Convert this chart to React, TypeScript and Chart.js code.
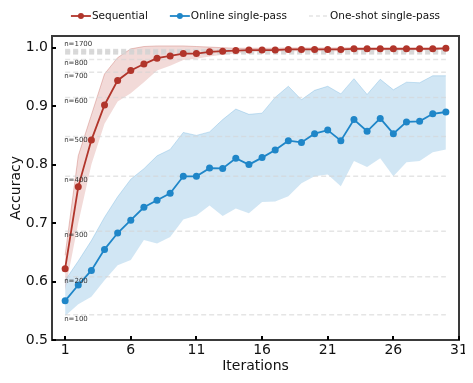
import React, { useEffect, useRef } from 'react';
import { Chart, registerables } from 'chart.js';

Chart.register(...registerables);

const iterations = [1, 2, 3, 4, 5, 6, 7, 8, 9, 10, 11, 12, 13, 14, 15, 16, 17, 18, 19, 20, 21, 22, 23, 24, 25, 26, 27, 28, 29, 30];
const xTickValues = [1, 6, 11, 16, 21, 26, 31];
const yTickValues = [0.5, 0.6, 0.7, 0.8, 0.9, 1.0];

const sequentialMean = [0.622, 0.762, 0.842, 0.902, 0.944, 0.961, 0.972, 0.982, 0.986, 0.990, 0.990, 0.993, 0.994, 0.995, 0.996, 0.996, 0.996, 0.997, 0.997, 0.997, 0.997, 0.997, 0.998, 0.998, 0.998, 0.998, 0.998, 0.998, 0.998, 0.999];
const sequentialUpper = [0.645, 0.815, 0.885, 0.955, 0.983, 0.998, 1.002, 1.003, 1.003, 1.003, 1.002, 1.001, 1.0, 0.999, 0.999, 0.999, 0.999, 0.9995, 0.9995, 0.9995, 0.9995, 0.9995, 1.0, 1.0, 1.0, 1.0, 1.0, 1.0, 1.0, 1.0];
const sequentialLower = [0.585, 0.700, 0.800, 0.870, 0.908, 0.922, 0.941, 0.961, 0.969, 0.979, 0.981, 0.985, 0.988, 0.990, 0.992, 0.993, 0.993, 0.994, 0.994, 0.994, 0.994, 0.994, 0.995, 0.995, 0.995, 0.995, 0.995, 0.995, 0.996, 0.997];

const onlineMean = [0.567, 0.594, 0.619, 0.655, 0.683, 0.705, 0.727, 0.739, 0.751, 0.780, 0.780, 0.794, 0.7935, 0.811, 0.800, 0.812, 0.825, 0.841, 0.838, 0.853, 0.859, 0.841, 0.877, 0.857, 0.879, 0.853, 0.873, 0.874, 0.887, 0.890];
const onlineUpper = [0.602, 0.635, 0.670, 0.710, 0.745, 0.775, 0.793, 0.815, 0.826, 0.855, 0.850, 0.856, 0.877, 0.895, 0.886, 0.888, 0.915, 0.934, 0.911, 0.927, 0.934, 0.921, 0.947, 0.920, 0.946, 0.928, 0.941, 0.940, 0.952, 0.952];
const onlineLower = [0.541, 0.561, 0.574, 0.602, 0.628, 0.637, 0.671, 0.665, 0.676, 0.706, 0.713, 0.730, 0.712, 0.725, 0.717, 0.736, 0.737, 0.746, 0.768, 0.780, 0.783, 0.763, 0.806, 0.796, 0.811, 0.780, 0.804, 0.806, 0.821, 0.826];

const oneShotN = [100, 200, 300, 400, 500, 600, 700, 800, 900, 1000, 1100, 1200, 1300, 1400, 1500, 1600, 1700];
const oneShotAccuracy = [0.543, 0.608, 0.686, 0.780, 0.848, 0.915, 0.958, 0.980, 0.989, 0.990, 0.991, 0.992, 0.993, 0.994, 0.995, 0.996, 0.997];
const oneShotLabelled = [100, 200, 300, 400, 500, 600, 700, 800, 1700];

const seriesNames = ['Sequential', 'Online single-pass', 'One-shot single-pass'];

const FONT = '"DejaVu Sans", sans-serif';
const RED = '#b1352b';
const BLUE = '#1f86c8';
const GRAY_DASH = 'rgba(212,212,212,0.6)';

const toPoints = (ys: number[]) => iterations.map((x, i) => ({ x, y: ys[i] }));

const decorPlugin = {
  id: 'decor',
  afterDraw(chart: any) {
    const { ctx, chartArea, scales } = chart;
    const xs = scales.x;
    const ys = scales.y;
    ctx.save();
    // frame
    ctx.strokeStyle = '#3a3a3a';
    ctx.lineWidth = 2;
    ctx.strokeRect(chartArea.left, chartArea.top, chartArea.right - chartArea.left, chartArea.bottom - chartArea.top);
    // inward tick marks
    ctx.strokeStyle = '#000';
    ctx.lineWidth = 2;
    xTickValues.forEach((v) => {
      const px = Math.round(xs.getPixelForValue(v));
      ctx.beginPath();
      ctx.moveTo(px, chartArea.bottom);
      ctx.lineTo(px, chartArea.bottom - 4);
      ctx.stroke();
    });
    yTickValues.forEach((v) => {
      const py = Math.round(ys.getPixelForValue(v));
      ctx.beginPath();
      ctx.moveTo(chartArea.left, py);
      ctx.lineTo(chartArea.left + 4, py);
      ctx.stroke();
    });
    // n labels
    ctx.font = '7px ' + FONT;
    ctx.fillStyle = '#333';
    ctx.textAlign = 'left';
    ctx.textBaseline = 'middle';
    const lx = xs.getPixelForValue(iterations[0]) - 1;
    oneShotN.forEach((n, i) => {
      if (!oneShotLabelled.includes(n)) return;
      const py = ys.getPixelForValue(oneShotAccuracy[i]);
      const isTop = n === oneShotN[oneShotN.length - 1];
      ctx.fillText('n=' + n, lx, isTop ? py - 5 : py + 4);
    });
    // legend
    ctx.font = '10.5px ' + FONT;
    const symW = 20;
    const gapText = 1;
    const gapItem = 22;
    const widths = seriesNames.map((s) => ctx.measureText(s).width);
    const total = widths.reduce((a, w) => a + symW + gapText + w, 0) + gapItem * (seriesNames.length - 1);
    let x = (chartArea.left + chartArea.right) / 2 - total / 2;
    const y = 8;
    const colors = [RED, BLUE, '#d6d6d6'];
    seriesNames.forEach((name, i) => {
      ctx.strokeStyle = colors[i];
      ctx.lineWidth = i === 2 ? 1.2 : 1.8;
      ctx.setLineDash(i === 2 ? [4, 3] : []);
      ctx.beginPath();
      ctx.moveTo(x, y);
      ctx.lineTo(x + symW, y);
      ctx.stroke();
      ctx.setLineDash([]);
      if (i < 2) {
        ctx.fillStyle = colors[i];
        ctx.beginPath();
        ctx.arc(x + symW / 2, y, 3, 0, Math.PI * 2);
        ctx.fill();
      }
      ctx.fillStyle = '#111';
      ctx.textBaseline = 'middle';
      ctx.fillText(name, x + symW + gapText, y + 0.5);
      x += symW + gapText + widths[i] + gapItem;
    });
    ctx.restore();
  },
};

export default function App() {
  const ref = useRef<HTMLCanvasElement | null>(null);
  useEffect(() => {
    if (!ref.current) return;
    const oneShotSets = oneShotAccuracy.map((acc, i) => ({
      label: 'n=' + oneShotN[i],
      data: [
        { x: iterations[0], y: acc },
        { x: iterations[iterations.length - 1], y: acc },
      ],
      borderColor: GRAY_DASH,
      borderWidth: 1.5,
      borderDash: [5, 3],
      pointRadius: 0,
      fill: false,
      order: 5,
    }));
    const chart = new Chart(ref.current, {
      type: 'line',
      data: {
        datasets: [
          { label: 'seqLower', data: toPoints(sequentialLower), borderColor: 'rgba(0,0,0,0)', borderWidth: 0, pointRadius: 0, fill: false, order: 10 },
          { label: 'seqUpper', data: toPoints(sequentialUpper), borderColor: 'rgba(185,70,60,0.3)', borderWidth: 1, pointRadius: 0, fill: '-1', backgroundColor: 'rgba(190,70,60,0.2)', order: 10 },
          { label: 'onLower', data: toPoints(onlineLower), borderColor: 'rgba(0,0,0,0)', borderWidth: 0, pointRadius: 0, fill: false, order: 11 },
          { label: 'onUpper', data: toPoints(onlineUpper), borderColor: 'rgba(60,150,210,0.25)', borderWidth: 1, pointRadius: 0, fill: '-1', backgroundColor: 'rgba(70,155,210,0.25)', order: 11 },
          ...oneShotSets,
          { label: seriesNames[1], data: toPoints(onlineMean), borderColor: BLUE, backgroundColor: BLUE, borderWidth: 1.8, pointRadius: 3.5, pointBorderWidth: 0, fill: false, order: 2 },
          { label: seriesNames[0], data: toPoints(sequentialMean), borderColor: RED, backgroundColor: RED, borderWidth: 1.8, pointRadius: 3.5, pointBorderWidth: 0, fill: false, order: 1 },
        ],
      },
      options: {
        animation: false,
        responsive: false,
        devicePixelRatio: 1,
        layout: { padding: { top: 28, right: 6, left: 0, bottom: 0 } },
        plugins: { legend: { display: false }, tooltip: { enabled: false } },
        scales: {
          x: {
            type: 'linear',
            min: 0,
            max: 31,
            afterBuildTicks: (s: any) => { s.ticks = xTickValues.map((v) => ({ value: v })); },
            afterFit: (s: any) => { s.height = 35; s.paddingLeft = 0; s.paddingRight = 0; },
            grid: { display: false, drawTicks: false },
            border: { display: false },
            ticks: { font: { family: FONT, size: 14 }, color: '#111', padding: 2, maxRotation: 0, autoSkip: false },
            title: { display: true, text: 'Iterations', font: { family: FONT, size: 14 }, color: '#111', padding: { top: 0, bottom: 0 } },
          },
          y: {
            type: 'linear',
            min: 0.5,
            max: 1.02,
            afterBuildTicks: (s: any) => { s.ticks = yTickValues.map((v) => ({ value: v })); },
            afterFit: (s: any) => { s.width = 44; },
            grid: { display: false, drawTicks: false },
            border: { display: false },
            ticks: { font: { family: FONT, size: 14 }, color: '#111', padding: 4, callback: (v: any) => Number(v).toFixed(1) },
            title: { display: true, text: 'Accuracy', font: { family: FONT, size: 14 }, color: '#111', padding: { top: 0, bottom: 0 } },
          },
        },
      },
      plugins: [decorPlugin],
    } as any);
    return () => chart.destroy();
  }, []);
  return (
    <div style={{ width: 457, height: 367 }}>
      <canvas ref={ref} width={457} height={367} />
    </div>
  );
}
